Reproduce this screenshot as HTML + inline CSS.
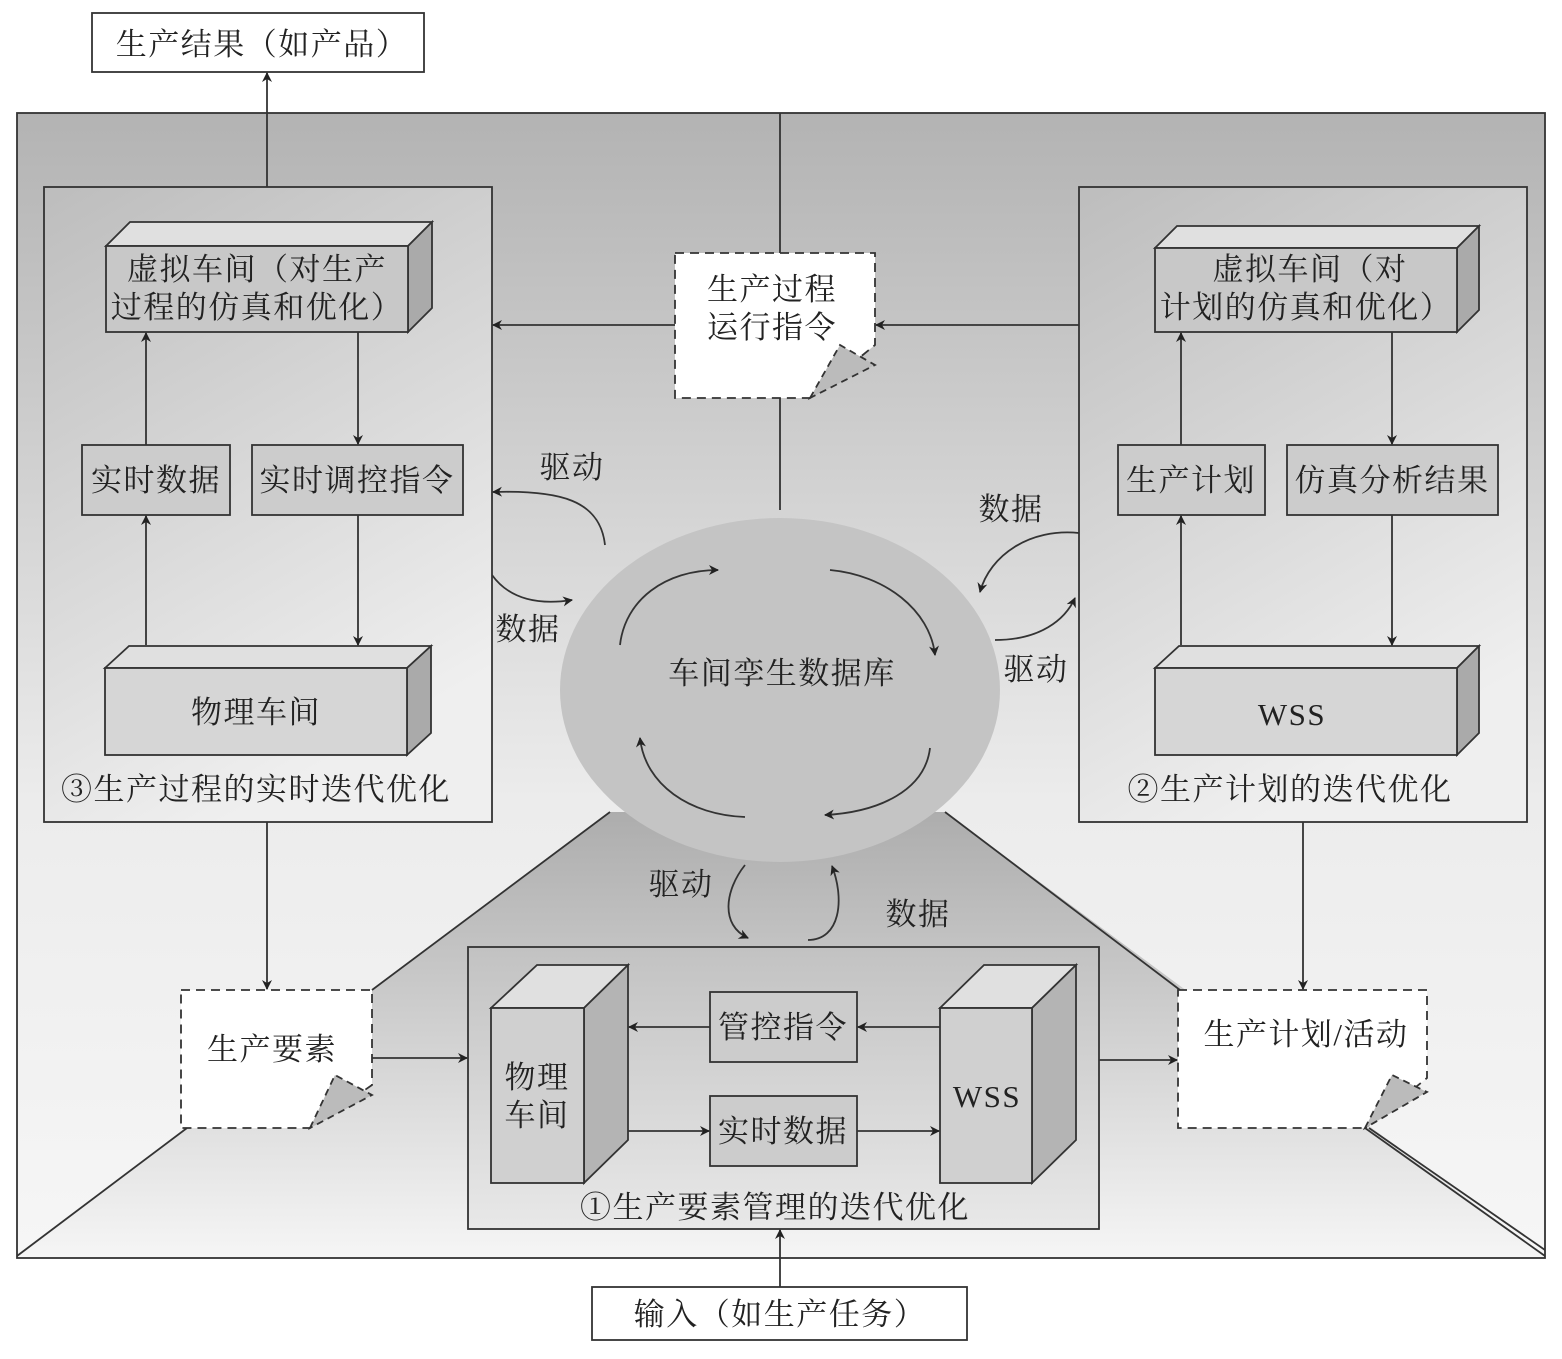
<!DOCTYPE html>
<html><head><meta charset="utf-8"><style>
html,body{margin:0;padding:0;background:#fff;}
svg text{font-family:"Liberation Serif","Noto Serif CJK SC","Noto Sans CJK SC",serif;font-size:31px;letter-spacing:1.5px;fill:#222;text-anchor:middle;}
</style></head><body>
<svg width="1562" height="1354" viewBox="0 0 1562 1354" xmlns="http://www.w3.org/2000/svg">
<defs>
<linearGradient id="bg" x1="0" y1="0" x2="0" y2="1"><stop offset="0" stop-color="#b3b3b3"/><stop offset="0.6" stop-color="#ececec"/><stop offset="1" stop-color="#f6f6f6"/></linearGradient>
<linearGradient id="floor" x1="0" y1="0" x2="0" y2="1"><stop offset="0" stop-color="#adadad"/><stop offset="1" stop-color="#f5f5f5"/></linearGradient>
<linearGradient id="pan" x1="0" y1="0" x2="0.4" y2="1"><stop offset="0" stop-color="#bdbdbd"/><stop offset="1" stop-color="#efefef"/></linearGradient>
<linearGradient id="pan2" x1="0" y1="0" x2="0" y2="1"><stop offset="0" stop-color="#c2c2c2"/><stop offset="1" stop-color="#e8e8e8"/></linearGradient>
<marker id="a" markerWidth="10" markerHeight="10" refX="9" refY="5" orient="auto" markerUnits="userSpaceOnUse"><path d="M0,0 L10,5 L0,10 L3,5 Z" fill="#222"/></marker>
</defs>
<g stroke="#333" stroke-width="1.8">
<rect x="17" y="113" width="1528" height="1145" fill="url(#bg)"/>
<polygon points="610,812 945,812 1545,1256 17,1256" fill="url(#floor)" stroke="none"/>
<line x1="17" y1="1256" x2="187" y2="1128"/><line x1="372" y1="990" x2="610" y2="812"/>
<line x1="945" y1="812" x2="1180" y2="990"/><line x1="1365" y1="1128" x2="1545" y2="1256"/>
<line x1="1369" y1="1128" x2="1545" y2="1250"/>
<rect x="44" y="187" width="448" height="635" fill="url(#pan)"/>
<rect x="1079" y="187" width="448" height="635" fill="url(#pan)"/>
<rect x="468" y="947" width="631" height="282" fill="url(#pan2)"/>
<ellipse cx="780" cy="690" rx="220" ry="172" fill="#c4c4c4" stroke="none"/>
</g>
<g stroke="#333" stroke-width="1.8" fill="none">
<polygon points="106,246 130,222 432,222 408,246" fill="#e0e0e0"/>
<polygon points="408,246 432,222 432,308 408,332" fill="#aaa"/>
<rect x="106" y="246" width="302" height="86" fill="#c8c8c8"/>
<rect x="82" y="445" width="148" height="70" fill="#ccc"/>
<rect x="252" y="445" width="211" height="70" fill="#ccc"/>
<polygon points="105,668 129,646 431,646 407,668" fill="#e0e0e0"/>
<polygon points="407,668 431,646 431,733 407,755" fill="#aaa"/>
<rect x="105" y="668" width="302" height="87" fill="#d6d6d6"/>
<line x1="146" y1="445" x2="146" y2="333" marker-end="url(#a)"/>
<line x1="146" y1="645" x2="146" y2="516" marker-end="url(#a)"/>
<line x1="358" y1="332" x2="358" y2="444" marker-end="url(#a)"/>
<line x1="358" y1="515" x2="358" y2="645" marker-end="url(#a)"/>
<polygon points="1155,248 1177,226 1479,226 1457,248" fill="#e0e0e0"/>
<polygon points="1457,248 1479,226 1479,310 1457,332" fill="#aaa"/>
<rect x="1155" y="248" width="302" height="84" fill="#c8c8c8"/>
<rect x="1118" y="445" width="147" height="70" fill="#ccc"/>
<rect x="1287" y="445" width="211" height="70" fill="#ccc"/>
<polygon points="1155,668 1179,646 1479,646 1457,668" fill="#e0e0e0"/>
<polygon points="1457,668 1479,646 1479,733 1457,755" fill="#aaa"/>
<rect x="1155" y="668" width="302" height="87" fill="#d6d6d6"/>
<line x1="1181" y1="445" x2="1181" y2="333" marker-end="url(#a)"/>
<line x1="1181" y1="645" x2="1181" y2="516" marker-end="url(#a)"/>
<line x1="1392" y1="332" x2="1392" y2="444" marker-end="url(#a)"/>
<line x1="1392" y1="515" x2="1392" y2="645" marker-end="url(#a)"/>
<rect x="92" y="13" width="332" height="59" fill="#fff"/>
<line x1="267" y1="187" x2="267" y2="73" marker-end="url(#a)"/>
<line x1="780" y1="113" x2="780" y2="253"/>
<line x1="780" y1="398" x2="780" y2="510"/>
<line x1="675" y1="325" x2="493" y2="325" marker-end="url(#a)"/>
<line x1="1079" y1="325" x2="876" y2="325" marker-end="url(#a)"/>
<polygon points="675,253 875,253 875,345 810,398 675,398" fill="#fff" stroke-dasharray="9,6"/>
<polygon points="810,398 840,345 875,365" fill="#bbb" stroke-dasharray="7,5"/>
<polygon points="181,990 372,990 372,1085 310,1128 181,1128" fill="#fff" stroke-dasharray="9,6"/>
<polygon points="310,1128 335,1075 372,1095" fill="#bbb" stroke-dasharray="7,5"/>
<polygon points="1178,990 1427,990 1427,1078 1365,1128 1178,1128" fill="#fff" stroke-dasharray="9,6"/>
<polygon points="1365,1128 1392,1075 1427,1092" fill="#bbb" stroke-dasharray="7,5"/>
<path d="M605,545 C600,500 560,490 493,492" marker-end="url(#a)"/>
<path d="M492,575 C510,600 540,605 572,600" marker-end="url(#a)"/>
<path d="M1079,533 C1030,528 990,555 980,592" marker-end="url(#a)"/>
<path d="M995,640 C1040,640 1065,620 1075,598" marker-end="url(#a)"/>
<path d="M745,865 C725,890 720,925 748,938" marker-end="url(#a)"/>
<path d="M808,940 C840,940 845,900 832,866" marker-end="url(#a)"/>
<path d="M620,645 C625,600 665,570 718,570" marker-end="url(#a)"/>
<path d="M830,570 C885,575 930,610 935,655" marker-end="url(#a)"/>
<path d="M930,748 C925,790 880,812 825,815" marker-end="url(#a)"/>
<path d="M745,817 C690,815 645,785 640,738" marker-end="url(#a)"/>
<polygon points="491,1008 537,965 628,965 584,1008" fill="#e0e0e0"/>
<polygon points="584,1008 628,965 628,1140 584,1183" fill="#b4b4b4"/>
<rect x="491" y="1008" width="93" height="175" fill="#d0d0d0"/>
<polygon points="940,1008 984,965 1076,965 1032,1008" fill="#e0e0e0"/>
<polygon points="1032,1008 1076,965 1076,1140 1032,1183" fill="#b4b4b4"/>
<rect x="940" y="1008" width="92" height="175" fill="#d0d0d0"/>
<rect x="710" y="992" width="147" height="70" fill="#ccc"/>
<rect x="710" y="1096" width="147" height="70" fill="#ccc"/>
<line x1="940" y1="1027" x2="858" y2="1027" marker-end="url(#a)"/>
<line x1="710" y1="1027" x2="629" y2="1027" marker-end="url(#a)"/>
<line x1="628" y1="1131" x2="709" y2="1131" marker-end="url(#a)"/>
<line x1="857" y1="1131" x2="939" y2="1131" marker-end="url(#a)"/>
<line x1="372" y1="1058" x2="467" y2="1058" marker-end="url(#a)"/>
<line x1="267" y1="822" x2="267" y2="989" marker-end="url(#a)"/>
<line x1="1099" y1="1060" x2="1177" y2="1060" marker-end="url(#a)"/>
<line x1="1303" y1="822" x2="1303" y2="989" marker-end="url(#a)"/>
<rect x="592" y="1287" width="375" height="53" fill="#fff"/>
<line x1="780" y1="1287" x2="780" y2="1230" marker-end="url(#a)"/>
</g>
<g>
<text x="262" y="55">生产结果（如产品）</text>
<text x="257" y="280">虚拟车间（对生产</text>
<text x="257" y="318">过程的仿真和优化）</text>
<text x="156" y="491">实时数据</text>
<text x="357" y="491">实时调控指令</text>
<text x="256" y="723">物理车间</text>
<text x="256" y="800">③生产过程的实时迭代优化</text>
<text x="1310" y="280">虚拟车间（对</text>
<text x="1306" y="318">计划的仿真和优化）</text>
<text x="1191" y="491">生产计划</text>
<text x="1392" y="491">仿真分析结果</text>
<text x="1292" y="725">WSS</text>
<text x="1290" y="800">②生产计划的迭代优化</text>
<text x="772" y="300">生产过程</text>
<text x="772" y="338">运行指令</text>
<text x="572" y="478">驱动</text>
<text x="528" y="640">数据</text>
<text x="1011" y="520">数据</text>
<text x="1036" y="680">驱动</text>
<text x="782" y="684">车间孪生数据库</text>
<text x="681" y="895">驱动</text>
<text x="918" y="925">数据</text>
<text x="272" y="1060">生产要素</text>
<text x="1306" y="1045">生产计划/活动</text>
<text x="537" y="1088">物理</text>
<text x="537" y="1126">车间</text>
<text x="987" y="1107">WSS</text>
<text x="783" y="1038">管控指令</text>
<text x="783" y="1142">实时数据</text>
<text x="775" y="1218">①生产要素管理的迭代优化</text>
<text x="780" y="1325">输入（如生产任务）</text>
</g>
</svg>
</body></html>
